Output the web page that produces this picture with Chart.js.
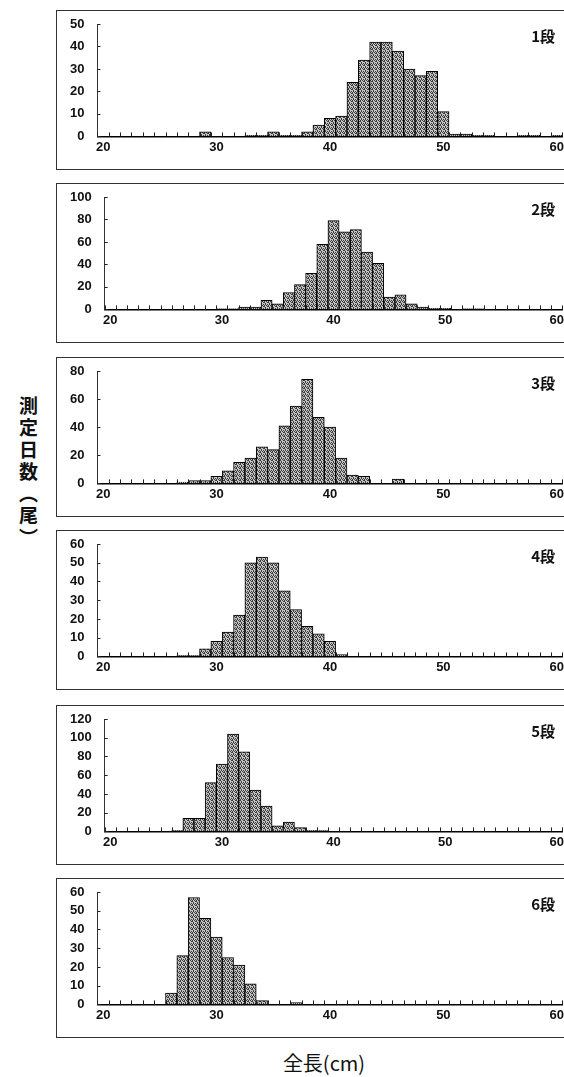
<!DOCTYPE html>
<html>
<head>
<meta charset="utf-8">
<script src="https://cdn.jsdelivr.net/npm/chart.js@4"></script>
<style>
html, body { margin: 0; padding: 0; background: #fff; overflow: hidden; width: 564px; height: 1077px; }
.panel { position: absolute; left: 56px; width: 540px; height: 158px; border: 1px solid #333; overflow: hidden; }
.panel canvas { position: absolute; left: 0; top: 0; }
.tag { position: absolute; left: 458px; top: 14px; width: 40px; text-align: right; font: bold 15px "Noto Sans CJK JP"; color: #111; }
#ytitle { position: absolute; left: 15px; top: 396px; writing-mode: vertical-rl; font: bold 19px "Noto Sans CJK JP"; letter-spacing: 3px; color: #111; }
#xtitle { position: absolute; left: 224px; top: 1048px; width: 200px; text-align: center; font: 20px "Noto Sans CJK JP"; color: #111; }
</style>
</head>
<body>
<div id="ytitle">測定日数（尾）</div>
<div id="xtitle">全長(cm)</div>
<script>
// 全長 1cm classes
const lengths = [20, 21, 22, 23, 24, 25, 26, 27, 28, 29,
                 30, 31, 32, 33, 34, 35, 36, 37, 38, 39,
                 40, 41, 42, 43, 44, 45, 46, 47, 48, 49,
                 50, 51, 52, 53, 54, 55, 56, 57, 58, 59, 60];

const dan1 = [0, 0, 0, 0, 0, 0, 0, 0, 0, 2,
              0, 0, 0, 0.5, 0.5, 2, 0.5, 0.5, 2, 5,
              8, 9, 24, 34, 42, 42, 38, 30, 27, 29,
              11, 1, 1, 0.5, 0.5, 0, 0, 0.5, 0.5, 0, 0.5];
const dan2 = [0, 0, 0, 0, 0, 0, 0, 0, 0, 0,
              0.5, 0.5, 2, 2, 8, 5, 15, 22, 32, 58,
              79, 69, 71, 51, 41, 11, 13, 5, 2, 1,
              1, 0, 0.5, 0.5, 0, 0, 0, 0, 0, 0, 0];
const dan3 = [0, 0, 0, 0, 0, 0, 0, 1, 2, 2,
              5, 9, 15, 18, 26, 24, 41, 55, 74, 47,
              40, 18, 6, 5, 0, 0, 3, 0, 0, 0,
              0, 0, 0, 0, 0, 0, 0, 0, 0, 0, 0];
const dan4 = [0, 0, 0, 0, 0, 0, 0, 0.5, 0.5, 4,
              8, 13, 22, 50, 53, 50, 35, 25, 16, 12,
              8, 1, 0, 0, 0, 0, 0, 0, 0, 0,
              0, 0, 0, 0, 0, 0, 0, 0, 0, 0, 0];
const dan5 = [0, 0, 0, 0, 0.5, 0, 1, 14, 14, 52,
              72, 104, 85, 44, 27, 6, 10, 4, 1, 1,
              0.5, 0.5, 0, 0, 0, 0, 0, 0, 0, 0,
              0, 0, 0, 0, 0, 0, 0, 0, 0, 0, 0];
const dan6 = [0, 0, 0, 0, 0, 0, 6, 26, 57, 46,
              36, 25, 21, 11, 2, 0, 0, 1, 0, 0,
              0, 0, 0, 0, 0, 0, 0, 0, 0, 0,
              0, 0, 0, 0, 0, 0, 0, 0, 0, 0, 0];

const panelNames = ['1段', '2段', '3段', '4段', '5段', '6段'];
const panelData = [dan1, dan2, dan3, dan4, dan5, dan6];
const yMax = [50, 100, 80, 60, 120, 60];
const yStep = [10, 20, 20, 10, 20, 10];
const panelTop = [10, 183, 357, 530, 705, 878];

// stippled grey fill
function makePattern() {
    const c = document.createElement('canvas');
    c.width = 4; c.height = 4;
    const g = c.getContext('2d');
    g.fillStyle = '#c4c4c4';
    g.fillRect(0, 0, 4, 4);
    g.fillStyle = '#3c3c3c';
    [[0, 0], [2, 0], [1, 1], [3, 2], [0, 3], [2, 2], [3, 1]].forEach(p => g.fillRect(p[0], p[1], 1, 1));
    return g.createPattern(c, 'repeat');
}

// small inward tick marks like the original
const innerTicks = {
    id: 'innerTicks',
    afterDraw(chart) {
        const ctx = chart.ctx;
        const x = chart.scales.x, y = chart.scales.y;
        const half = (x.getPixelForValue(1) - x.getPixelForValue(0)) / 2;
        const base = chart.chartArea.bottom;
        ctx.save();
        ctx.strokeStyle = '#222';
        ctx.lineWidth = 1;
        ctx.beginPath();
        for (let i = 0; i <= lengths.length; i++) {
            const px = Math.round(x.getPixelForValue(i) - half) + 0.5;
            ctx.moveTo(px, base);
            ctx.lineTo(px, base - 4);
        }
        y.ticks.forEach(t => {
            const py = Math.round(y.getPixelForValue(t.value)) + 0.5;
            ctx.moveTo(chart.chartArea.left, py);
            ctx.lineTo(chart.chartArea.left + 3, py);
        });
        ctx.stroke();
        ctx.restore();
    }
};

const tickFont = { family: 'Liberation Sans', size: 13, weight: 'bold' };

panelData.forEach((vals, k) => {
    const box = document.createElement('div');
    box.className = 'panel';
    box.style.top = panelTop[k] + 'px';
    const cv = document.createElement('canvas');
    cv.width = 510;
    cv.height = 158;
    box.appendChild(cv);
    const tag = document.createElement('div');
    tag.className = 'tag';
    tag.textContent = panelNames[k];
    box.appendChild(tag);
    document.body.appendChild(box);

    new Chart(cv.getContext('2d'), {
        type: 'bar',
        data: {
            labels: lengths,
            datasets: [{
                data: vals,
                backgroundColor: makePattern(),
                borderColor: '#000',
                borderWidth: 1,
                barPercentage: 1,
                categoryPercentage: 1,
            }]
        },
        options: {
            responsive: false,
            animation: false,
            layout: { padding: { left: 12, right: 0, top: 13, bottom: 11 } },
            plugins: { legend: { display: false }, tooltip: { enabled: false } },
            scales: {
                x: {
                    grid: { display: false, drawTicks: false },
                    border: { color: '#000', width: 1.5 },
                    ticks: {
                        autoSkip: false,
                        maxRotation: 0,
                        padding: 3,
                        color: '#111',
                        font: tickFont,
                        callback: (v, i) => lengths[i] % 10 === 0 ? lengths[i] : null
                    }
                },
                y: {
                    min: 0,
                    max: yMax[k],
                    grid: { drawOnChartArea: false, drawTicks: true, tickLength: 12, tickColor: 'rgba(0,0,0,0)' },
                    border: { color: '#333', width: 1 },
                    ticks: { stepSize: yStep[k], autoSkip: false, padding: 1, color: '#111', font: tickFont }
                }
            }
        },
        plugins: [innerTicks]
    });
});
</script>
</body>
</html>
